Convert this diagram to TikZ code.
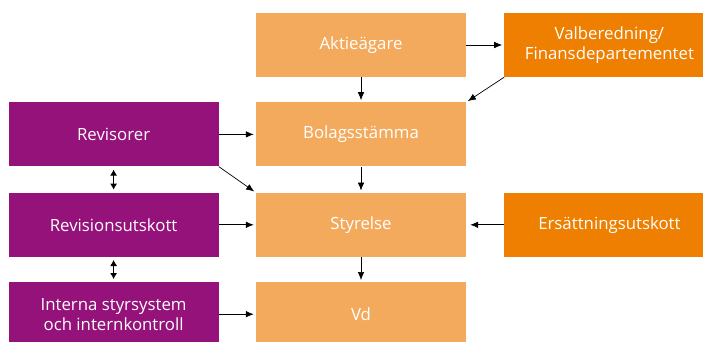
\documentclass[tikz,border=0pt]{standalone}
\usepackage{fontspec}
\setmainfont{Open Sans}
\usepackage{xcolor}
\usepackage{tikz}
\usetikzlibrary{positioning,arrows.meta}

\begin{document}
\begin{tikzpicture}[x=1pt,y=1pt]
	\definecolor{lightorange}{RGB}{243,170,92}
	\definecolor{darkorange}{RGB}{238,127,0}
	\definecolor{govpurple}{RGB}{148,18,122}
	\tikzset{
		box/.style={
			rectangle,
			minimum width=210pt,
			minimum height=64pt,
			inner sep=0pt,
			align=center,
			text=white,
			font=\fontsize{16.8}{20}\selectfont
		},
		ownbox/.style={box, fill=lightorange},
		extbox/.style={box, fill=darkorange},
		ctrlbox/.style={box, fill=govpurple},
		arr/.style={
			-{Latex[length=8pt,width=6.5pt]},
			line width=0.7pt,
			shorten >=2pt
		},
		dblarr/.style={
			{Latex[length=6pt,width=7pt]}-{Latex[length=6pt,width=7pt]},
			line width=0.8pt,
			shorten >=3pt, shorten <=3pt
		}
	}
	\useasboundingbox (0,0) rectangle (703,-342);

	% ======= Mittkolumn =======
	\node[ownbox] (aktie) at (361,-45) {Aktieägare};
	\node[ownbox, below=25pt of aktie] (stamma) {Bolagsstämma};
	\node[ownbox, below=26pt of stamma] (styr) {Styrelse};
	\node[ownbox, below=25pt of styr] (vd) {Vd};

	% ======= Vänster kolumn =======
	\node[ctrlbox, left=37pt of stamma] (revisor) {Revisorer};
	\node[ctrlbox, left=37pt of styr] (revutsk) {Revisionsutskott};
	\node[ctrlbox, left=37pt of vd] (intern) {Interna styrsystem\\och internkontroll};

	% ======= Höger kolumn =======
	\node[extbox, right=38pt of aktie] (valb) {Valberedning/\\Finansdepartementet};
	\node[extbox, right=38pt of styr] (ersatt) {Ersättningsutskott};

	% ======= Pilar =======
	\draw[arr] (aktie) -- (valb);
	\draw[arr] (aktie) -- (stamma);
	\draw[arr] (valb.south west) -- (stamma.north east);
	\draw[arr] (revisor) -- (stamma);
	\draw[arr] (revisor.south east) -- (styr.north west);
	\draw[arr] (stamma) -- (styr);
	\draw[arr] (revutsk) -- (styr);
	\draw[arr, shorten >=4pt] (ersatt) -- (styr);
	\draw[arr] (styr) -- (vd);
	\draw[arr] (intern) -- (vd);
	\draw[dblarr] (revisor) -- (revutsk);
	\draw[dblarr] (revutsk) -- (intern);
\end{tikzpicture}
\end{document}
